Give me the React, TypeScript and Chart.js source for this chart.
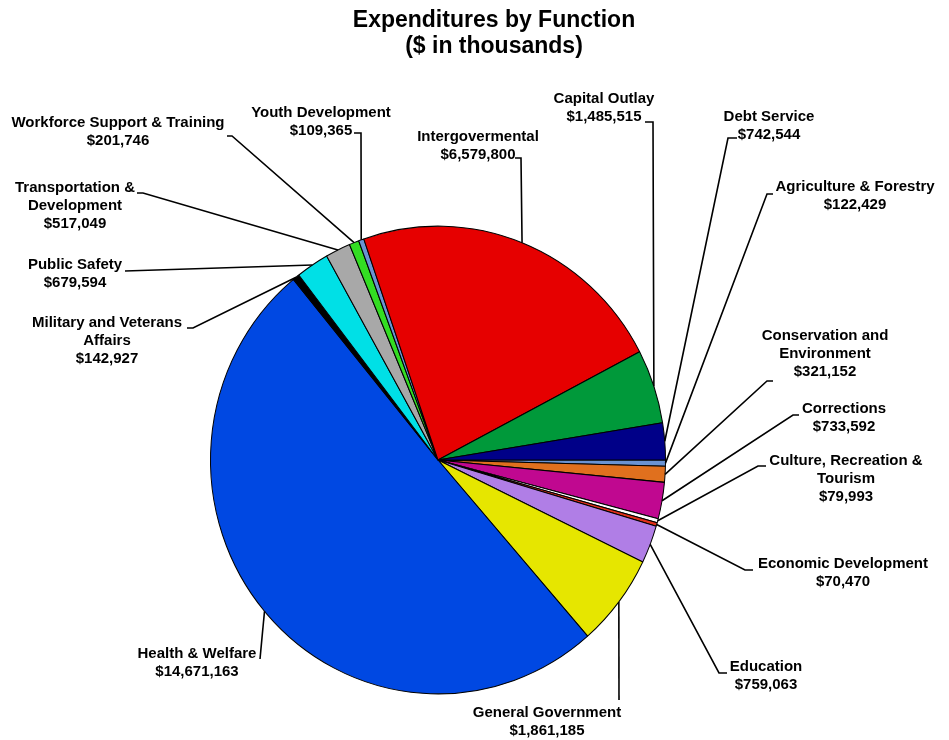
import React, { useEffect, useRef } from "react";
import Chart from "chart.js/auto";

// ---------- data ----------
const titleLines = ["Expenditures by Function", "($ in thousands)"];

const categories = [
  "Agriculture & Forestry",
  "Conservation and\nEnvironment",
  "Corrections",
  "Culture, Recreation &\nTourism",
  "Economic Development",
  "Education",
  "General Government",
  "Health & Welfare",
  "Military and Veterans\nAffairs",
  "Public Safety",
  "Transportation &\nDevelopment",
  "Workforce Support & Training",
  "Youth Development",
  "Intergovermental",
  "Capital Outlay",
  "Debt Service",
];

const values = [
  122429, 321152, 733592, 79993, 70470, 759063, 1861185, 14671163, 142927,
  679594, 517049, 201746, 109365, 6579800, 1485515, 742544,
];

const colors = [
  "#6A93D2", // Agriculture
  "#E0701E", // Conservation
  "#C00890", // Corrections
  "#FFFFFF", // Culture
  "#E0301A", // Economic Dev
  "#B07EE6", // Education
  "#E6E600", // General Gov
  "#0048E2", // Health
  "#000000", // Military
  "#00E0E6", // Public Safety
  "#A8A8A8", // Transportation
  "#33DD22", // Workforce
  "#6A93D2", // Youth
  "#E60000", // Intergov
  "#00993A", // Capital
  "#000088", // Debt
];

// ---------- layout (label text centre, leader start and elbow) ----------
// x,y: centre of first text line; sx,sy: leader start at label; dx: short horizontal elbow
const labelLayout = [
  { x: 855, y: 187, sx: 773, sy: 194, dx: -6 },
  { x: 825, y: 336, sx: 773, sy: 381, dx: -6 },
  { x: 844, y: 409, sx: 799, sy: 415, dx: -6 },
  { x: 846, y: 461, sx: 766, sy: 466, dx: -8 },
  { x: 843, y: 564, sx: 753, sy: 570, dx: -8 },
  { x: 766, y: 667, sx: 727, sy: 673, dx: -8 },
  { x: 547, y: 713, sx: 619, sy: 700, dx: 0 },
  { x: 197, y: 654, sx: 260, sy: 659, dx: 0 },
  { x: 107, y: 323, sx: 187, sy: 328, dx: 6 },
  { x: 75, y: 265, sx: 125, sy: 271, dx: 0 },
  { x: 75, y: 188, sx: 137, sy: 193, dx: 6 },
  { x: 118, y: 123, sx: 227, sy: 136, dx: 5 },
  { x: 321, y: 113, sx: 354, sy: 133, dx: 7 },
  { x: 478, y: 137, sx: 515, sy: 158, dx: 6 },
  { x: 604, y: 99, sx: 645, sy: 122, dx: 8 },
  { x: 769, y: 117, sx: 737, sy: 138, dx: -9 },
];

const Y_STRETCH = 1.028;
const FONT = "'Liberation Sans', Arial, Helvetica, sans-serif";

const fmt = (v: number) => "$" + v.toLocaleString("en-US");

const stretchPlugin = {
  id: "stretch",
  beforeDatasetsDraw(chart: any) {
    const arc = chart.getDatasetMeta(0).data[0];
    if (!arc) return;
    const ctx = chart.ctx;
    ctx.save();
    ctx.translate(arc.x, arc.y);
    ctx.scale(1, Y_STRETCH);
    ctx.translate(-arc.x, -arc.y);
  },
  afterDatasetsDraw(chart: any) {
    chart.ctx.restore();
  },
};

const labelPlugin = {
  id: "labels",
  afterDraw(chart: any) {
    const ctx = chart.ctx;
    const arcs = chart.getDatasetMeta(0).data;
    ctx.save();
    // title
    ctx.fillStyle = "#000";
    ctx.textAlign = "center";
    ctx.textBaseline = "middle";
    ctx.font = `bold 23px ${FONT}`;
    ctx.fillText(titleLines[0], 494, 21);
    ctx.fillText(titleLines[1], 494, 47);

    // leaders
    ctx.strokeStyle = "#000";
    ctx.lineWidth = 1.6;
    ctx.lineJoin = "miter";
    arcs.forEach((arc: any, i: number) => {
      const p = arc.getProps(["x", "y", "startAngle", "endAngle", "outerRadius"], true);
      const mid = (p.startAngle + p.endAngle) / 2;
      const ex = p.x + Math.cos(mid) * p.outerRadius;
      const ey = p.y + Math.sin(mid) * p.outerRadius * Y_STRETCH;
      const L = labelLayout[i];
      ctx.beginPath();
      ctx.moveTo(L.sx, L.sy);
      ctx.lineTo(L.sx + L.dx, L.sy);
      ctx.lineTo(ex, ey);
      ctx.stroke();
    });

    // label texts
    ctx.font = `bold 15px ${FONT}`;
    categories.forEach((c, i) => {
      const L = labelLayout[i];
      const lines = c.split("\n").concat([fmt(values[i])]);
      lines.forEach((ln, k) => ctx.fillText(ln, L.x, L.y + k * 18));
    });
    ctx.restore();
  },
};

export default function App() {
  const ref = useRef<HTMLCanvasElement | null>(null);
  useEffect(() => {
    if (!ref.current) return;
    const chart = new Chart(ref.current, {
      type: "pie",
      data: {
        labels: categories.map((c) => c.replace("\n", " ")),
        datasets: [
          {
            data: values,
            backgroundColor: colors,
            borderColor: "#000000",
            borderWidth: 1,
            hoverOffset: 0,
            offset: 0,
          },
        ],
      },
      options: {
        responsive: false,
        maintainAspectRatio: false,
        animation: false,
        rotation: 90,
        layout: { padding: { left: 210, right: 283, top: 232, bottom: 52 } },
        plugins: {
          legend: { display: false },
          title: { display: false },
          tooltip: { enabled: false },
        },
        events: [],
      },
      plugins: [stretchPlugin, labelPlugin],
    });
    return () => chart.destroy();
  }, []);
  return (
    <div style={{ position: "fixed", left: 0, top: 0, width: 949, height: 740, background: "#fff" }}>
      <canvas ref={ref} width={949} height={740} style={{ width: 949, height: 740 }} />
    </div>
  );
}
